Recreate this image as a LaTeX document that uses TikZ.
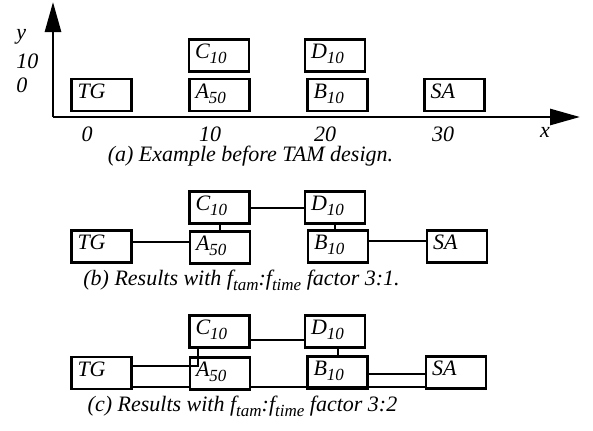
\documentclass[tikz,border=0pt]{standalone}
\usepackage{fontspec}
\setmainfont{Liberation Serif}
\usetikzlibrary{arrows.meta}
\newcommand{\lowidx}[1]{\raisebox{-2.6pt}{\fontsize{8.5}{9}\selectfont#1}}

\begin{document}
\begin{tikzpicture}[
    x=0.5pt, y=-0.5pt,
    every node/.style={font=\fontsize{11}{13}\selectfont\itshape, inner sep=0pt},
    core/.style={draw, line width=1.2pt, inner xsep=3pt, inner ysep=0pt,
        text width=24pt, align=left, text height=9.5pt, text depth=6.5pt},
    wire/.style={line width=1pt},
    axis/.style={line width=1.4pt, -{Triangle[length=15pt, width=8pt]}}
]
\useasboundingbox (0,0) rectangle (593,430);

% (a) placement before TAM design
\coordinate (origin) at (53,117);
\draw[axis] (origin) -- (53,2);
\draw[axis] (origin) -- (580,117);
\node[anchor=west] (ylab) at (16,37) {y};
\node[anchor=west] (ytick10) at (16,61) {10};
\node[anchor=west] (ytick0) at (16,85) {0};
\node (xtick0) at (87,134) {0};
\node (xtick10) at (210,134) {10};
\node (xtick20) at (325,134) {20};
\node (xtick30) at (443,134) {30};
\node (xlab) at (545,132) {x};

\node[core] (tgA) at (101.5,95) {TG};
\node[core] (cA) at (219,55.5) {C\lowidx{10}};
\node[core] (aA) at (219.5,95) {A\lowidx{50}};
\node[core] (dA) at (335,55.5) {D\lowidx{10}};
\node[core] (bA) at (337.5,95) {B\lowidx{10}};
\node[core] (saA) at (454.5,95) {SA};
\node (capA) at (250.5,156) {(a) Example before TAM design.};

% (b) factor 3:1
\node[core] (cB) at (219.5,207.5) {C\lowidx{10}};
\node[core] (dB) at (335,207.5) {D\lowidx{10}};
\node[core] (tgB) at (101.5,246.5) {TG};
\node[core] (aB) at (220,247.5) {A\lowidx{50}};
\node[core] (bB) at (338,246.5) {B\lowidx{10}};
\node[core] (saB) at (457,246.5) {SA};
\draw[wire] ([yshift=2.25pt]tgB.east) -- ([yshift=2.25pt]tgB.east -| aB.west);
\draw[wire] (cB.east) -- (cB.east -| dB.west);
\draw[wire] (cB.south) -- (cB.south |- aB.north);
\draw[wire] (dB.south) -- (dB.south |- bB.north);
\draw[wire] ([yshift=2.75pt]bB.east) -- ([yshift=2.75pt]bB.east -| saB.west);
\node (capB) at (241.5,280) {(b) Results with f\lowidx{tam}:f\lowidx{time} factor 3:1.};

% (c) factor 3:2
\node[core] (cC) at (219.5,331.5) {C\lowidx{10}};
\node[core] (dC) at (335,331.5) {D\lowidx{10}};
\node[core] (tgC) at (101.5,373) {TG};
\node[core] (aC) at (220,373.5) {A\lowidx{50}};
\node[core] (bC) at (337.5,372.5) {B\lowidx{10}};
\node[core] (saC) at (456,372.5) {SA};
\draw[wire] ([xshift=-10.75pt]cC.south) |- ([yshift=3.5pt]tgC.east);
\coordinate (lowL) at ([yshift=1.5pt]tgC.south east);
\coordinate (lowR) at ([yshift=1.75pt]aC.south east);
\draw[wire] (lowL) -- (lowL -| aC.west);
\draw[wire] (lowR) -- (lowR -| saC.west);
\draw[wire] ([yshift=-4.25pt]cC.east) -- ([yshift=-4.25pt]cC.east -| dC.west);
\draw[wire] ([xshift=1.5pt]dC.south) -- ([xshift=1.5pt]dC.south |- bC.north);
\draw[wire] ([yshift=-0.75pt]bC.east) -- ([yshift=-0.75pt]bC.east -| saC.west);
\node (capC) at (242.5,406) {(c) Results with f\lowidx{tam}:f\lowidx{time} factor 3:2};
\end{tikzpicture}
\end{document}
